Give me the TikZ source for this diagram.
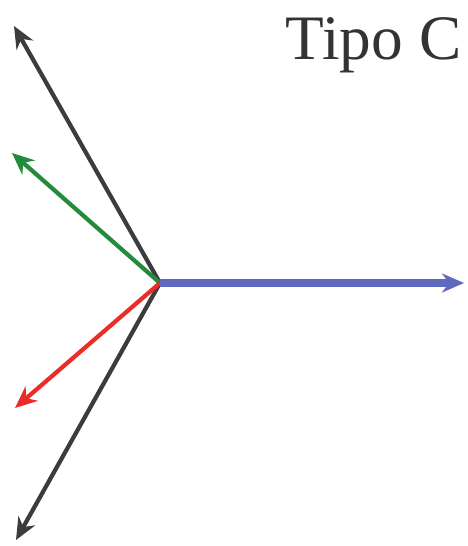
\documentclass[tikz,border=0pt]{standalone}
\usepackage{fontspec}
\setmainfont{Liberation Serif}
\usetikzlibrary{arrows.meta}

\definecolor{vecblue}{RGB}{95,105,190}
\definecolor{vecgreen}{RGB}{35,140,60}
\definecolor{vecred}{RGB}{235,45,40}
\definecolor{vecgray}{RGB}{60,60,60}

\begin{document}
\begin{tikzpicture}[
  x=0.01cm, y=-0.01cm,
  vec/.style={-{Stealth[length=2.2mm, width=1.9mm]}, line width=1.2pt},
  title/.style={font=\fontsize{18}{20}\selectfont, text=black!80, inner sep=0pt},
]
\useasboundingbox (0,0) rectangle (467,546);

% Origin and tips
\coordinate (o) at (160,283);
\coordinate (bluetip) at (464,283);
\coordinate (topblack) at (14,26);
\coordinate (greentip) at (12,153);
\coordinate (redtip) at (15,408);
\coordinate (botblack) at (16,540);

% Vectors
\draw[vec, draw=vecgray] (o) -- (topblack);
\draw[vec, draw=vecgreen] (o) -- (greentip);
\draw[vec, draw=vecgray] (o) -- (botblack);
\draw[vec, draw=vecred] (o) -- (redtip);
\draw[vec, draw=vecblue, line width=2pt] (o) -- (bluetip);

% Label
\node[title, anchor=base east] (tipo) at (462,60) {Tipo C};
\end{tikzpicture}
\end{document}
